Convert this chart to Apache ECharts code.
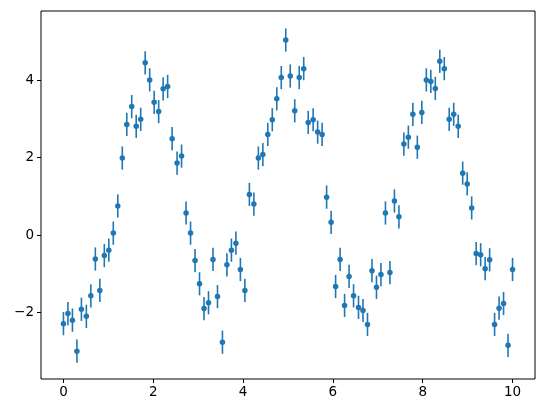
<!DOCTYPE html>
<html>
<head>
<meta charset="utf-8">
<script src="https://cdn.jsdelivr.net/npm/echarts@6/dist/echarts.min.js"></script>
<style>
  html, body { margin: 0; padding: 0; background: #fff; }
  #chart { width: 546px; height: 413px; }
</style>
</head>
<body>
<div id="chart"></div>
<script>
// sample positions
const xValues = [
  0.00, 0.10, 0.20, 0.30, 0.40, 0.51, 0.61, 0.71, 0.81, 0.91,
  1.01, 1.11, 1.21, 1.31, 1.41, 1.52, 1.62, 1.72, 1.82, 1.92,
  2.02, 2.12, 2.22, 2.32, 2.42, 2.53, 2.63, 2.73, 2.83, 2.93,
  3.03, 3.13, 3.23, 3.33, 3.43, 3.54, 3.64, 3.74, 3.84, 3.94,
  4.04, 4.14, 4.24, 4.34, 4.44, 4.55, 4.65, 4.75, 4.85, 4.95,
  5.05, 5.15, 5.25, 5.35, 5.45, 5.56, 5.66, 5.76, 5.86, 5.96,
  6.06, 6.16, 6.26, 6.36, 6.46, 6.57, 6.67, 6.77, 6.87, 6.97,
  7.07, 7.17, 7.27, 7.37, 7.47, 7.58, 7.68, 7.78, 7.88, 7.98,
  8.08, 8.18, 8.28, 8.38, 8.48, 8.59, 8.69, 8.79, 8.89, 8.99,
  9.09, 9.19, 9.29, 9.39, 9.49, 9.60, 9.70, 9.80, 9.90, 10.00
]
// measured values
const yValues = [
  -2.29, -2.03, -2.20, -3.00, -1.92, -2.10, -1.57, -0.62, -1.43, -0.53,
  -0.39, 0.05, 0.75, 1.99, 2.86, 3.32, 2.81, 2.99, 4.45, 4.01,
  3.43, 3.19, 3.78, 3.84, 2.49, 1.86, 2.04, 0.57, 0.05, -0.66,
  -1.26, -1.90, -1.75, -0.63, -1.59, -2.77, -0.77, -0.39, -0.21, -0.89,
  -1.43, 1.05, 0.80, 1.99, 2.08, 2.60, 2.98, 3.52, 4.07, 5.04,
  4.11, 3.21, 4.07, 4.30, 2.91, 2.98, 2.66, 2.60, 0.98, 0.33,
  -1.33, -0.63, -1.82, -1.07, -1.57, -1.87, -1.95, -2.31, -0.92, -1.35,
  -1.02, 0.57, -0.97, 0.88, 0.47, 2.35, 2.53, 3.12, 2.27, 3.17,
  4.01, 3.97, 3.79, 4.49, 4.30, 2.99, 3.12, 2.81, 1.60, 1.32,
  0.70, -0.48, -0.51, -0.87, -0.64, -2.31, -1.89, -1.77, -2.85, -0.89
]
const yError = 0.3
const xTicks = [0, 2, 4, 6, 8, 10]
const yTicks = [-2, 0, 2, 4]

const color = '#1f77b4'
const points = xValues.map((x, i) => [x, yValues[i], yError])

const fmt = v => String(v).replace('-', '\u2212')

const myChart = echarts.init(document.getElementById('chart'))
const option = {
  animation: false,
  grid: {
    left: 41,
    right: 11,
    top: 11,
    bottom: 34,
    show: true,
    borderColor: '#000',
    borderWidth: 1
  },
  xAxis: {
    type: 'value',
    min: -0.5,
    max: 10.5,
    splitLine: { show: false },
    axisLine: { show: false, onZero: false },
    axisTick: {
      show: true,
      length: 4,
      customValues: xTicks,
      lineStyle: { color: '#000' }
    },
    axisLabel: {
      customValues: xTicks,
      formatter: fmt,
      margin: 6,
      color: '#000',
      fontSize: 13.5,
      fontFamily: 'DejaVu Sans'
    }
  },
  yAxis: {
    type: 'value',
    min: -3.72,
    max: 5.79,
    splitLine: { show: false },
    axisLine: { show: false, onZero: false },
    axisTick: {
      show: true,
      length: 4,
      customValues: yTicks,
      lineStyle: { color: '#000' }
    },
    axisLabel: {
      customValues: yTicks,
      formatter: fmt,
      margin: 7,
      color: '#000',
      fontSize: 13.5,
      fontFamily: 'DejaVu Sans'
    }
  },
  series: [
    {
      type: 'custom',
      data: points,
      renderItem: (params, api) => {
        const x = api.value(0)
        const y = api.value(1)
        const e = api.value(2)
        const lo = api.coord([x, y - e])
        const hi = api.coord([x, y + e])
        return {
          type: 'line',
          shape: { x1: lo[0], y1: lo[1], x2: hi[0], y2: hi[1] },
          style: { stroke: color, lineWidth: 1.6 }
        }
      },
      z: 2
    },
    {
      type: 'scatter',
      data: points,
      symbol: 'circle',
      symbolSize: 5.5,
      itemStyle: { color: color, opacity: 1 },
      z: 3
    }
  ]
}
myChart.setOption(option)
</script>
</body>
</html>
